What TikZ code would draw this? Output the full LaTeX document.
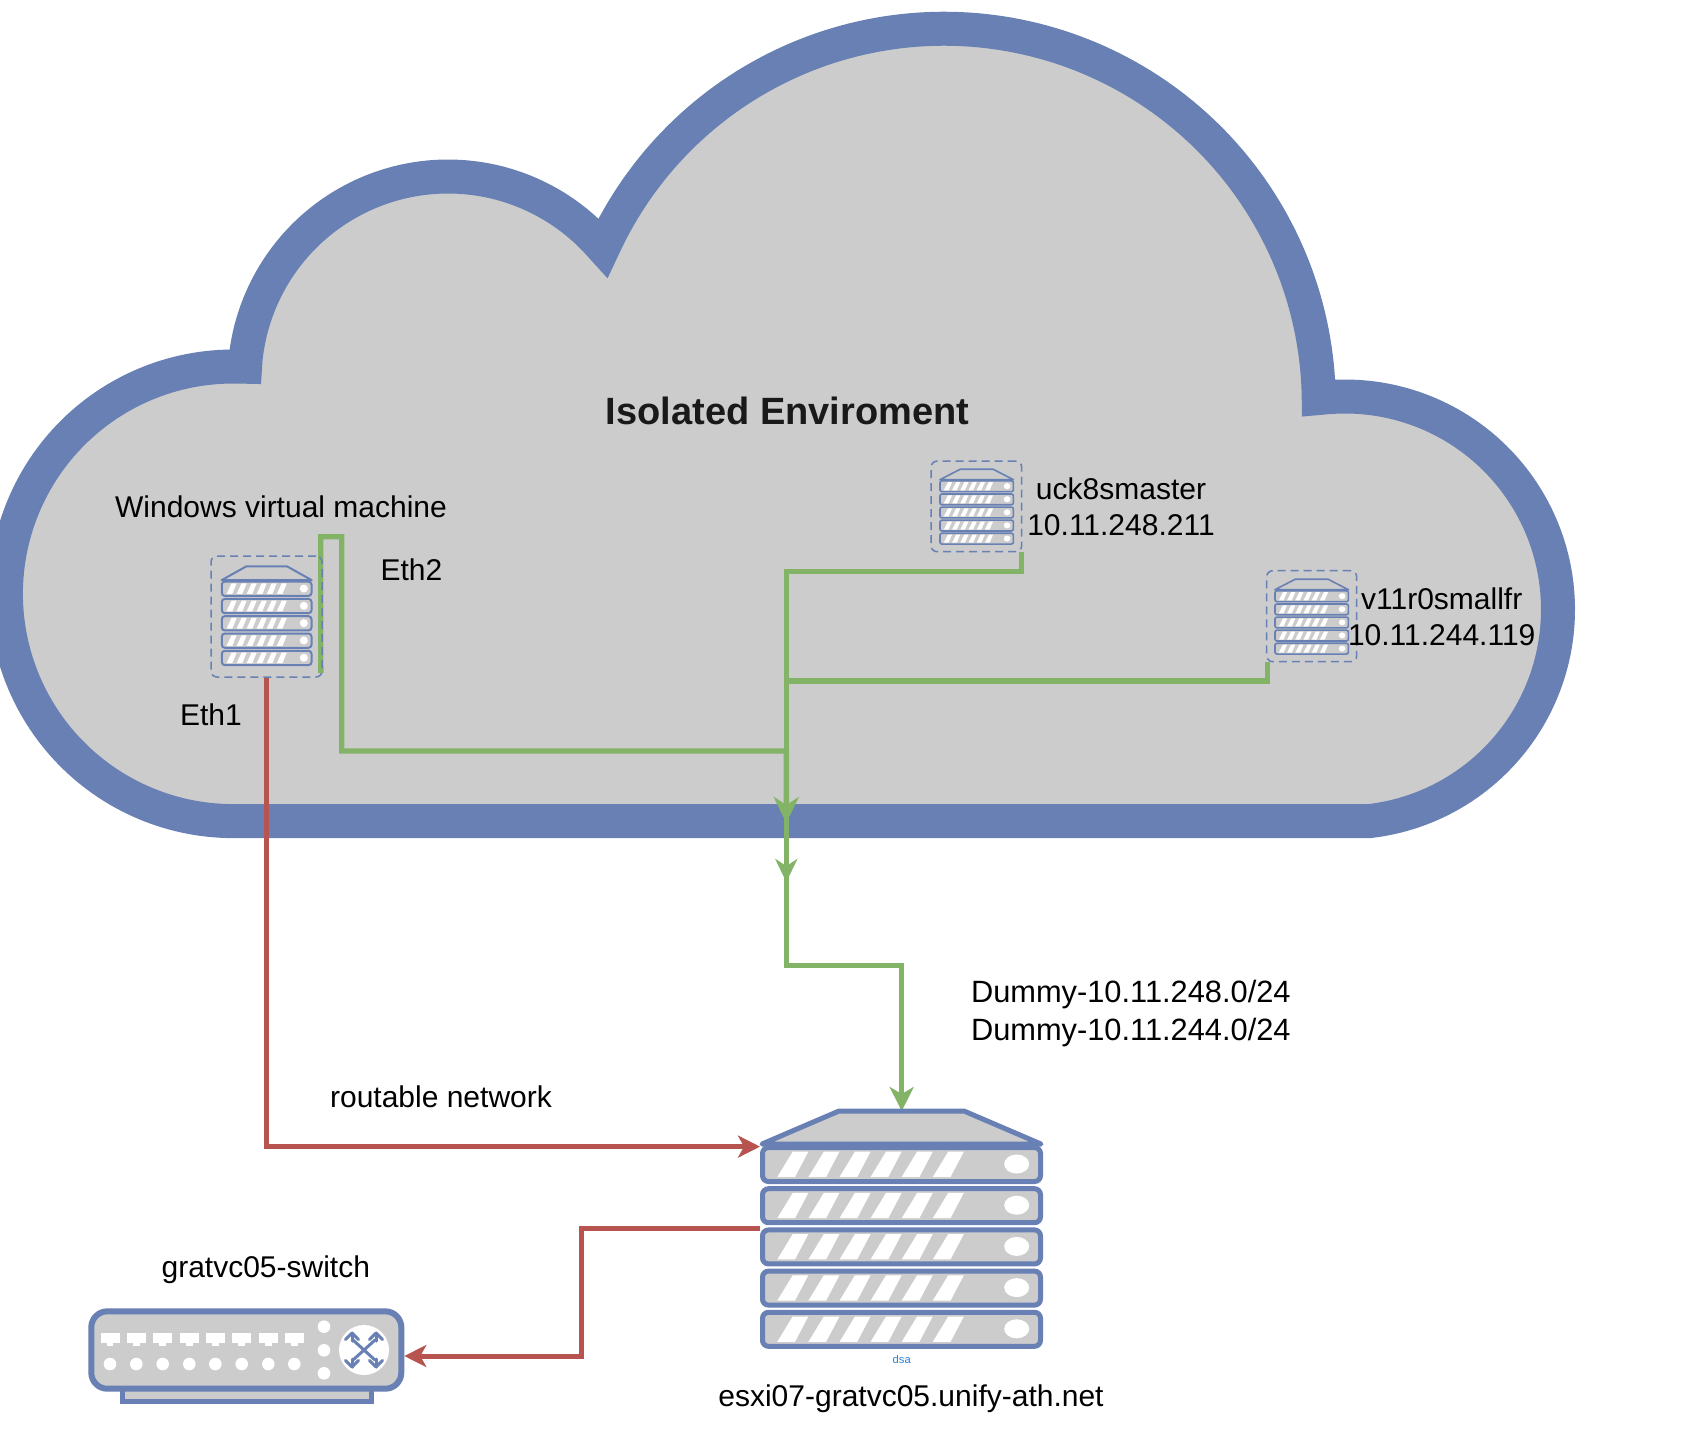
\documentclass[tikz,border=0pt]{standalone}
\usepackage{fontspec}
\setmainfont{Liberation Sans}
\usetikzlibrary{arrows.meta}
\pgfdeclarelayer{bg}
\pgfdeclarelayer{edges}
\pgfsetlayers{bg,edges,main}
\definecolor{bandblue}{HTML}{6880B3}
\definecolor{fillgray}{HTML}{CCCCCC}
\definecolor{greenline}{HTML}{82B366}
\definecolor{redline}{HTML}{B85450}
\definecolor{dsablue}{HTML}{2A7FD8}
\tikzset{
  lbl/.style={inner sep=0pt,outer sep=0pt,text=black,font=\fontsize{15pt}{17.5pt}\selectfont},
  vmbox/.style={draw=bandblue,dash pattern=on 4pt off 2.5pt,line width=.75pt,rounded corners=3pt,inner sep=0pt,outer sep=0pt},
  hostbox/.style={inner sep=0pt,outer sep=0pt},
  greenbase/.style={draw=greenline,line width=2.7pt},
  greentipa/.style={greenbase,-{Stealth[length=13pt,width=12.5pt,inset=4pt]}},
  greentipb/.style={greenbase,-{Stealth[length=11.5pt,width=11pt,inset=3.5pt]}},
  greentipc/.style={greenbase,-{Stealth[length=12pt,width=12pt,inset=3.5pt]}},
  rededge/.style={draw=redline,line width=2.5pt,-{Stealth[length=11pt,width=11pt,inset=3pt]}},
  blueline/.style={draw=bandblue,fill=fillgray}
}
% server icon: origin x, origin y, xscale, yscale, line width, corner radius
\newcommand{\srvicon}[6]{%
\begin{scope}[shift={(#1,#2)},xscale=#3,yscale=#4]
  \draw[blueline,line width=#5,line join=round] (2,36)--(79,3)--(204,3)--(281,36)--cycle;
  \foreach \i in {0,...,4}{
    \pgfmathsetmacro{\yy}{37+41.2*\i}
    \draw[blueline,line width=#5,rounded corners=#6] (2.5,\yy+2.5) rectangle (280.5,\yy+36.5);
    \foreach \k in {0,...,5}{
      \pgfmathsetmacro{\xx}{17.3+31.1*\k}
      \fill[white] (\xx,\yy+32) -- (\xx+15.4,\yy+6.7) -- (\xx+31,\yy+6.7) -- (\xx+17.7,\yy+32) -- cycle;
    }
    \fill[white] (256.7,\yy+19) ellipse [x radius=12.5,y radius=9.5];
  }
\end{scope}}
\begin{document}
\begin{tikzpicture}[x=.5pt,y=-.5pt]
\useasboundingbox (0,0) rectangle (1701,1441);
% cloud
\begin{pgfonlayer}{bg}
\begin{scope}
\clip (0,0) rectangle (1701,1441);
\draw[draw=bandblue,fill=fillgray,line width=17pt,miter limit=10]
  plot[domain=270:89,samples=120] ({233.2+227.3*cos(\x)},{593.8-227.3*sin(\x)})
  -- (245.1,366.7)
  -- plot[domain=174:42,samples=90] ({448+203.5*cos(\x)},{380-203.5*sin(\x)})
  -- (603,248)
  -- plot[domain=154:2,samples=120] ({944+374.8*cos(\x)},{403.5-374.8*sin(\x)})
  -- (1318.7,398)
  -- plot[domain=95:-83.3,samples=120] ({1345+213*cos(\x)},{609.5-213*sin(\x)})
  -- cycle;
\end{scope}
\end{pgfonlayer}
% machines
\node[vmbox,minimum width=55.5pt,minimum height=60.5pt] (win) at (266.5,616.5) {};
\node[vmbox,minimum width=45.3pt,minimum height=45.3pt] (uck) at (976.4,506.4) {};
\node[vmbox,minimum width=45pt,minimum height=45.5pt] (vsm) at (1311.7,616.2) {};
\node[hostbox,minimum width=141.5pt,minimum height=120pt] (esxi) at (901.5,1228) {};
\node[hostbox,minimum width=158pt,minimum height=41.7pt] (sw) at (246.3,1350) {};
\srvicon{221}{565}{.3227}{.42}{1pt}{1.5pt}
\srvicon{939.3}{468.3}{.264}{.318}{.8pt}{1pt}
\srvicon{1274.3}{578.3}{.264}{.318}{.8pt}{1pt}
\srvicon{760}{1108}{1}{1}{2.5pt}{3pt}
% switch
\draw[blueline,line width=2.5pt] (122,1388) rectangle (371,1401.7);
\draw[blueline,line width=3pt,rounded corners=8pt] (91.3,1311.3) rectangle (401.3,1388.7);
\foreach \px in {110,136.3,162.7,189.3,215.3,241.7,268.3,294.3}{
  \fill[white] (\px-9.5,1333.3) rectangle (\px+9.5,1342.7);
  \fill[white] (\px-3.4,1342.7) rectangle (\px+3.4,1345.7);
  \fill[white] (\px,1364) circle [radius=6.3];
}
\fill[white] (324,1326.7) circle [radius=6.3];
\fill[white] (324,1350.3) circle [radius=6.3];
\fill[white] (324,1373.3) circle [radius=6.3];
\fill[white] (364,1350) circle [radius=25];
\begin{scope}[shift={(364,1350)},draw=bandblue,line width=1.5pt,line cap=round,line join=round]
  \draw[bandblue] (-11,-10) -- (11,10);
  \draw[bandblue] (-11,10) -- (11,-10);
  \foreach \sx in {-1,1}{\foreach \sy in {-1,1}{
    \draw[bandblue] (\sx*12,\sy*17) -- (\sx*12,\sy*9);
    \draw[bandblue] (\sx*18.5,\sy*10.5) -- (\sx*12,\sy*17) -- (\sx*5.5,\sy*10.5);
  }}
\end{scope}
% connectors
\coordinate (tipa) at (786.3,823);
\coordinate (tipb) at (786.3,882);
\begin{pgfonlayer}{edges}
\draw[greentipa] ([xshift=-.6pt,yshift=2pt]win.south east) -- (320.7,536.7) -- (341.7,536.7) -- (341.7,751) -- (786.3,751) -- (tipa);
\draw[greentipb] ([xshift=.5pt]vsm.south west) -- (1267.7,681) -- (786.3,681) -- (tipb);
\draw[greentipc] (uck.south east) -- (1021.7,571.7) -- (786.3,571.7) -- (786.3,965.5) -- (901.7,965.5) -- (901.7,1111);
\draw[rededge] (win.south) |- ([yshift=-19.3pt]esxi.north west);
\draw[rededge] ([yshift=-60.3pt]esxi.north west) -- ++(-178.5,0) |- ([yshift=-3pt]sw.east);
\end{pgfonlayer}
% labels
\node[lbl,text=black!90,font=\fontsize{19pt}{22pt}\selectfont\bfseries] (title) at (787.5,411) {Isolated Enviroment};
\node[lbl] (winl) at (281,506.6) {Windows virtual machine};
\node[lbl] (eth2) at (411.5,569.5) {Eth2};
\node[lbl] (eth1) at (211,715) {Eth1};
\node[lbl,align=center,font=\fontsize{15pt}{18pt}\selectfont] (uckl) at (1121,506.5) {uck8smaster\\10.11.248.211};
\node[lbl,align=center,font=\fontsize{15pt}{18pt}\selectfont] (vsml) at (1441.7,616.5) {v11r0smallfr\\10.11.244.119};
\node[lbl,align=left,font=\fontsize{15.4pt}{19pt}\selectfont] (dum) at (1130.8,1014) {Dummy-10.11.248.0/24\\Dummy-10.11.244.0/24};
\node[lbl] (rout) at (441,1096.7) {routable network};
\node[lbl] (swl) at (265.8,1270) {gratvc05-switch};
\node[lbl] (esxl) at (911,1399) {esxi07-gratvc05.unify-ath.net};
\node[lbl,text=dsablue,font=\fontsize{5.6pt}{7pt}\selectfont] (dsa) at (901.7,1359.3) {dsa};
\end{tikzpicture}
\end{document}
